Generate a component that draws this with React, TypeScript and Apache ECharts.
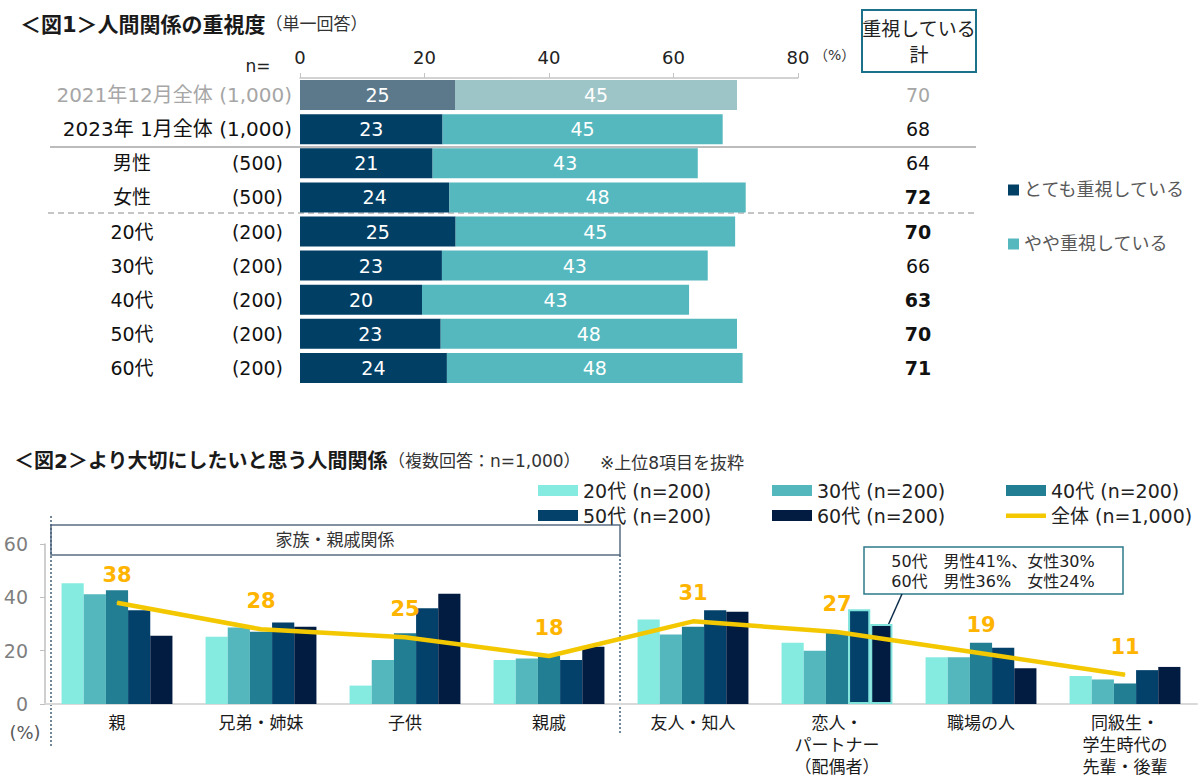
import React, { useEffect, useRef } from 'react';
import * as echarts from 'echarts';

const FONT = "'DejaVu Sans', 'Noto Sans CJK JP', sans-serif";

// ---------- Figure 1 data ----------
const fig1Groups = ['2021年12月全体', '2023年 1月全体', '男性', '女性', '20代', '30代', '40代', '50代', '60代'];
const fig1N = ['(1,000)', '(1,000)', '(500)', '(500)', '(200)', '(200)', '(200)', '(200)', '(200)'];
const fig1Very = [24.9, 22.9, 21.3, 24.0, 25.0, 22.8, 19.6, 22.6, 23.6];
const fig1Somewhat = [45.3, 45.0, 42.6, 47.6, 44.9, 42.7, 42.9, 47.6, 47.5];
const fig1Total = [70, 68, 64, 72, 70, 66, 63, 70, 71];
const fig1TotalBold = [false, false, false, true, true, false, true, true, true];
const fig1SeriesNames = ['とても重視している', 'やや重視している'];

// ---------- Figure 2 data ----------
const fig2Categories = [
  '親',
  '兄弟・姉妹',
  '子供',
  '親戚',
  '友人・知人',
  '恋人・\nパートナー\n（配偶者）',
  '職場の人',
  '同級生・\n学生時代の\n先輩・後輩',
];
const fig2SeriesNames = ['20代 (n=200)', '30代 (n=200)', '40代 (n=200)', '50代 (n=200)', '60代 (n=200)'];
const age20 = [45.3, 25.2, 6.9, 16.5, 31.7, 23.0, 17.5, 10.5];
const age30 = [41.2, 28.7, 16.5, 17.1, 26.1, 20.0, 17.5, 9.2];
const age40 = [42.7, 27.1, 26.5, 18.1, 29.0, 26.7, 23.0, 7.7];
const age50 = [35.2, 30.6, 35.9, 16.5, 35.2, 35.5, 21.1, 12.7];
const age60 = [25.6, 29.0, 41.3, 21.5, 34.6, 30.0, 13.4, 13.9];
const overallName = '全体 (n=1,000)';
const overall = [38, 28, 25, 18, 31, 27, 19, 11];
const highlightIndex = 5;

const ageColors = ['#85ebe1', '#53b7bd', '#227e93', '#03416a', '#021b41'];
const LINE_ICON = 'path://M0,3.5H40V8H0Z M0,0H0.01V0.01H0Z M0,11H0.01V11.01H0Z';

function buildOption(): any {
  const ageData = [age20, age30, age40, age50, age60];

  const fig1Bars = [fig1Very, fig1Somewhat].map((arr, si) => ({
    type: 'bar',
    name: fig1SeriesNames[si],
    xAxisIndex: 0,
    yAxisIndex: 0,
    stack: 'fig1',
    barWidth: 30,
    itemStyle: { color: si === 0 ? '#023f65' : '#54b8be' },
    label: {
      show: true,
      position: 'inside',
      color: '#fff',
      fontSize: 19,
      fontFamily: FONT,
      formatter: (p: any) => String(Math.round(p.value)),
    },
    data: arr.map((v, i) =>
      i === 0 ? { value: v, itemStyle: { color: si === 0 ? '#5b798b' : '#9dc4c6' } } : v
    ),
  }));

  const fig2Bars = ageData.map((arr, si) => ({
    type: 'bar',
    name: fig2SeriesNames[si],
    xAxisIndex: 1,
    yAxisIndex: 2,
    barGap: '0%',
    barCategoryGap: '23%',
    itemStyle: { color: ageColors[si] },
    data: arr.map((v, i) =>
      (si === 3 || si === 4) && i === highlightIndex
        ? { value: v, itemStyle: { borderColor: '#7fe3dc', borderWidth: 2 } }
        : v
    ),
  }));

  const lineSeries = {
    type: 'line',
    name: overallName,
    xAxisIndex: 1,
    yAxisIndex: 2,
    symbol: 'circle',
    symbolSize: 1,
    showSymbol: true,
    z: 5,
    lineStyle: { color: '#f3c800', width: 4.5 },
    itemStyle: { color: '#f3c800' },
    label: {
      show: true,
      position: 'top',
      distance: 17,
      color: '#ffb400',
      fontSize: 21,
      fontWeight: 'bold',
      fontFamily: FONT,
    },
    labelLayout: { hideOverlap: false },
    data: overall,
  };

  return {
    animation: false,
    backgroundColor: '#ffffff',
    textStyle: { fontFamily: FONT },
    grid: [
      { left: 300, right: 402, top: 78, height: 307 },
      { left: 45, right: 3, top: 544, bottom: 80 },
    ],
    xAxis: [
      {
        type: 'value',
        gridIndex: 0,
        position: 'top',
        min: 0,
        max: 80,
        interval: 20,
        axisLine: { show: true, lineStyle: { color: '#c4c4c4', width: 1.5 } },
        axisTick: { show: true, length: 5, lineStyle: { color: '#c4c4c4' } },
        splitLine: { show: false },
        axisLabel: { fontSize: 18, color: '#222', margin: 12, fontFamily: FONT },
      },
      {
        type: 'category',
        gridIndex: 1,
        data: fig2Categories,
        axisLine: { show: true, lineStyle: { color: '#d9d9d9', width: 2 } },
        axisTick: { show: false },
        axisLabel: {
          interval: 0,
          fontSize: 17,
          color: '#1a1a1a',
          lineHeight: 22,
          margin: 8,
          fontFamily: FONT,
        },
      },
    ],
    yAxis: [
      {
        type: 'category',
        gridIndex: 0,
        inverse: true,
        data: fig1Groups,
        axisLine: { show: false },
        axisTick: { show: false },
        axisLabel: {
          margin: 8,
          fontFamily: FONT,
          formatter: (v: string, i: number) => {
            if (i === 0) return `{g|${v} ${fig1N[i]}}`;
            if (i === 1) return `{k|${v} ${fig1N[i]}}`;
            return `{a|${v}}{b|${fig1N[i]}}{s| }`;
          },
          rich: {
            g: { color: '#a6a6a6', fontSize: 20, fontFamily: FONT },
            k: { color: '#111', fontSize: 20, fontFamily: FONT },
            a: { color: '#111', fontSize: 19, width: 160, align: 'center', fontFamily: FONT },
            b: { color: '#111', fontSize: 19, width: 71, align: 'right', fontFamily: FONT },
            s: { fontSize: 19, width: 9 },
          },
        },
      },
      {
        type: 'category',
        gridIndex: 0,
        position: 'right',
        inverse: true,
        data: fig1Groups,
        axisLine: { show: false },
        axisTick: { show: false },
        axisLabel: {
          margin: 120,
          align: 'center',
          fontFamily: FONT,
          formatter: (_v: string, i: number) => {
            const st = i === 0 ? 'g' : fig1TotalBold[i] ? 'b' : 'n';
            return `{${st}|${fig1Total[i]}}`;
          },
          rich: {
            g: { color: '#a6a6a6', fontSize: 19, fontFamily: FONT },
            n: { color: '#111', fontSize: 19, fontFamily: FONT },
            b: { color: '#111', fontSize: 19, fontWeight: 'bold', fontFamily: FONT },
          },
        },
      },
      {
        type: 'value',
        gridIndex: 1,
        min: 0,
        max: 60,
        interval: 20,
        axisLine: { show: true, lineStyle: { color: '#bfbfbf', width: 1.5 } },
        axisTick: { show: true, length: 5, lineStyle: { color: '#bfbfbf' } },
        splitLine: { show: false },
        axisLabel: { fontSize: 19, color: '#7f7f7f', margin: 17, fontFamily: FONT },
      },
    ],
    legend: [
      {
        data: fig1SeriesNames,
        orient: 'vertical',
        left: 1003,
        top: 176,
        icon: 'rect',
        itemWidth: 11,
        itemHeight: 11,
        itemGap: 36,
        textStyle: { color: '#595959', fontSize: 18, fontFamily: FONT },
        selectedMode: false,
      },
      {
        data: [
          ...fig2SeriesNames.map((n) => ({ name: n, icon: 'rect' })),
          { name: overallName, icon: LINE_ICON, itemStyle: { color: '#f3c800' } },
        ],
        left: 533,
        top: 476,
        width: 712,
        itemWidth: 40,
        itemHeight: 11,
        itemGap: 6,
        selectedMode: false,
        formatter: (name: string) => `{a|${name}}`,
        textStyle: {
          fontFamily: FONT,
          rich: { a: { width: 183, fontSize: 19, color: '#222', lineHeight: 20, fontFamily: FONT } },
        },
      },
    ],
    graphic: [
      // Figure 1 title
      {
        type: 'text',
        left: 20,
        top: 14,
        style: {
          text: '{t|＜図1＞人間関係の重視度}{s|（単一回答）}',
          rich: {
            t: { fontSize: 21, fontWeight: 'bold', fill: '#1a1a1a', fontFamily: FONT },
            s: { fontSize: 17, fill: '#333', fontFamily: FONT },
          },
        },
      },
      { type: 'text', x: 258, y: 66, style: { text: 'n=', fontSize: 17, fill: '#222', fontFamily: FONT, align: 'center', verticalAlign: 'middle' } },
      { type: 'text', x: 814, y: 55, style: { text: '（%）', fontSize: 14, fill: '#333', fontFamily: FONT, verticalAlign: 'middle' } },
      // header box
      { type: 'rect', shape: { x: 862, y: 10, width: 114, height: 62 }, style: { fill: '#fff', stroke: '#1b7189', lineWidth: 2 } },
      {
        type: 'text',
        x: 919,
        y: 42,
        style: {
          text: '重視している\n計',
          fontSize: 19,
          lineHeight: 26,
          fill: '#222',
          fontFamily: FONT,
          align: 'center',
          verticalAlign: 'middle',
        },
      },
      // separators
      { type: 'line', shape: { x1: 50, y1: 147, x2: 976, y2: 147 }, style: { stroke: '#a6a6a6', lineWidth: 1.5 } },
      { type: 'line', shape: { x1: 48, y1: 213, x2: 975, y2: 213 }, style: { stroke: '#b3b3b3', lineWidth: 1.5, lineDash: [6, 4] } },
      // Figure 2 title
      {
        type: 'text',
        left: 14,
        top: 451,
        style: {
          text: '{t|＜図2＞より大切にしたいと思う人間関係}{s|（複数回答：n=1,000）}',
          rich: {
            t: { fontSize: 20, fontWeight: 'bold', fill: '#1a1a1a', fontFamily: FONT },
            s: { fontSize: 17, fill: '#333', fontFamily: FONT },
          },
        },
      },
      { type: 'text', x: 600, y: 463, style: { text: '※上位8項目を抜粋', fontSize: 17, fill: '#333', fontFamily: FONT, verticalAlign: 'middle' } },
      // family box
      { type: 'rect', shape: { x: 51, y: 525, width: 569, height: 30 }, style: { fill: 'rgba(255,255,255,0)', stroke: '#5a6e82', lineWidth: 1.5 } },
      { type: 'text', x: 335, y: 540, style: { text: '家族・親戚関係', fontSize: 17, fill: '#333', fontFamily: FONT, align: 'center', verticalAlign: 'middle' } },
      { type: 'line', shape: { x1: 51, y1: 516, x2: 51, y2: 748 }, style: { stroke: '#46607a', lineWidth: 1.5, lineDash: [2, 2] } },
      { type: 'line', shape: { x1: 620, y1: 555, x2: 620, y2: 735 }, style: { stroke: '#46607a', lineWidth: 1.5, lineDash: [2, 2] } },
      { type: 'text', x: 25, y: 732, style: { text: '(%)', fontSize: 18, fill: '#595959', fontFamily: FONT, align: 'center', verticalAlign: 'middle' } },
      // callout
      { type: 'rect', shape: { x: 864, y: 547, width: 259, height: 47 }, style: { fill: '#fff', stroke: '#2c7a8a', lineWidth: 1.5 } },
      {
        type: 'text',
        x: 993,
        y: 571,
        style: {
          text: '50代　男性41%、女性30%\n60代　男性36%　女性24%',
          fontSize: 16,
          lineHeight: 20,
          fill: '#222',
          fontFamily: FONT,
          align: 'center',
          verticalAlign: 'middle',
        },
      },
      { type: 'line', shape: { x1: 902, y1: 594, x2: 886, y2: 630 }, style: { stroke: '#0d2c4a', lineWidth: 1.5 } },
    ],
    series: [...fig1Bars, ...fig2Bars, lineSeries],
  };
}

export default function App() {
  const ref = useRef<HTMLDivElement>(null);
  useEffect(() => {
    if (!ref.current) return;
    const chart = echarts.init(ref.current, null, { renderer: 'svg' });
    chart.setOption(buildOption());
    return () => chart.dispose();
  }, []);
  return (
    <div
      ref={ref}
      style={{ position: 'absolute', left: 0, top: 0, width: 1200, height: 784, background: '#fff' }}
    />
  );
}
